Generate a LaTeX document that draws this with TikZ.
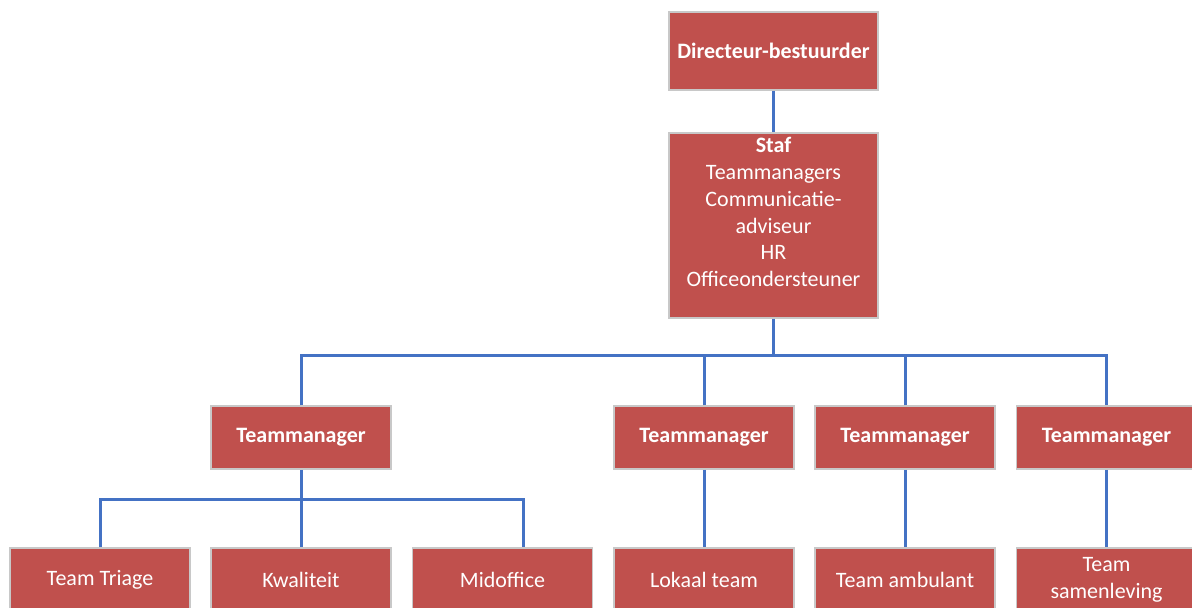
\documentclass[tikz,border=0pt]{standalone}
\usepackage{fontspec}
\setmainfont{Carlito}
\definecolor{boxred}{HTML}{C0504D}
\definecolor{linkblue}{HTML}{4472C4}
\definecolor{boxedge}{HTML}{C8C8C8}
\begin{document}
\begin{tikzpicture}[x=1pt,y=-1pt,
  box/.style={draw=boxedge, line width=1.5pt, fill=boxred, text=white,
    font=\fontsize{22}{26.8}\selectfont, minimum width=180pt, minimum height=63pt,
    inner sep=0pt, align=center},
  boldbox/.style={box, font=\fontsize{22}{26.8}\selectfont\bfseries},
  link/.style={draw=linkblue, line width=3pt}]
\useasboundingbox (0,0) rectangle (1192,608);
% level 0/1
\node[boldbox, minimum width=209pt, minimum height=78pt] (dir) at (773.5,51) {Directeur-bestuurder};
\node[box, minimum width=209pt, minimum height=185pt] (staf) at (773.5,225.5)
  {\textbf{Staf}\\Teammanagers\\Communicatie-\\adviseur\\HR\\Officeondersteuner\\\mbox{}};
% level 2
\node[boldbox] (tm1) at (301,437.5) {Teammanager};
\node[boldbox] (tm2) at (704,437.5) {Teammanager};
\node[boldbox] (tm3) at (905,437.5) {Teammanager};
\node[boldbox] (tm4) at (1106.5,437.5) {Teammanager};
% level 3
\node[box] (t1) at (100,579.5) {Team Triage};
\node[box] (t2) at (301,579.5) {Kwaliteit};
\node[box] (t3) at (502.5,579.5) {Midoffice};
\node[box] (t4) at (704,579.5) {Lokaal team};
\node[box] (t5) at (905,579.5) {Team ambulant};
\node[box] (t6) at (1106.5,579.5) {Team\\samenleving};
% connectors
\coordinate (bus) at (773.5,355);
\coordinate (bus2) at (301,499);
\draw[link] (dir) -- (staf);
\draw[link] (staf.south) -- (bus);
\draw[link] (tm1.north) |- (bus) -| (tm4.north);
\draw[link] (tm2.north) -- (tm2.north |- bus);
\draw[link] (tm3.north) -- (tm3.north |- bus);
\draw[link] (tm1.south) -- (t2.north);
\draw[link] (t1.north) |- (bus2) -| ([xshift=20.5pt]t3.north);
\draw[link] (tm2.south) -- (t4.north);
\draw[link] (tm3.south) -- (t5.north);
\draw[link] (tm4.south) -- (t6.north);
\end{tikzpicture}
\end{document}
